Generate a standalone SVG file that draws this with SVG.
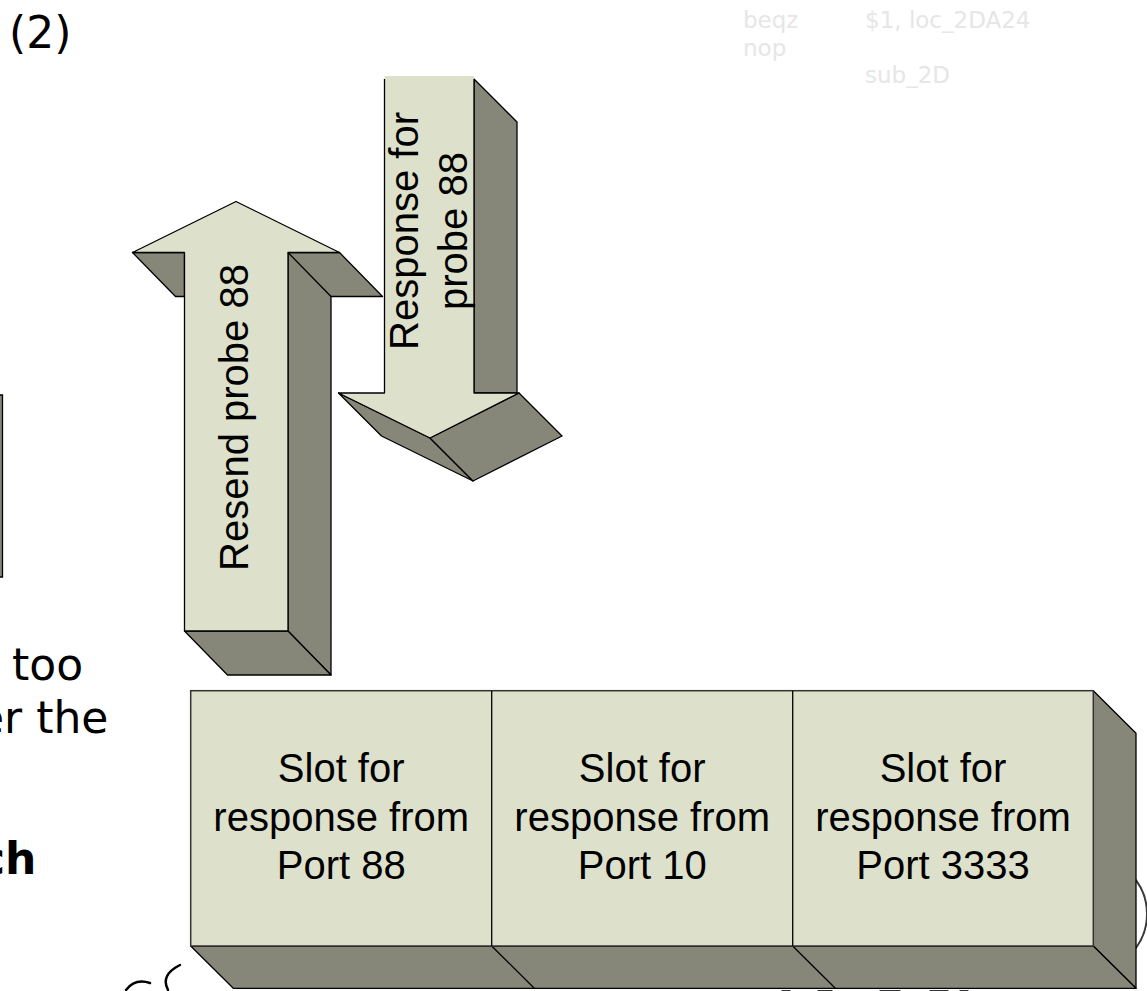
<svg xmlns="http://www.w3.org/2000/svg" width="1147" height="991" viewBox="0 0 1147 991">
<style>
.lt{fill:#dde0cb}
.dk{fill:#868778;stroke:#000;stroke-width:1.3;stroke-linejoin:round}
.ln{fill:none;stroke:#000;stroke-width:1.3;stroke-linejoin:round}
.lbl{font-family:"Liberation Sans",Arial,sans-serif;font-size:40px;fill:#000}
.slide{font-family:"DejaVu Sans",Verdana,sans-serif;fill:#000;font-size:44px}
.asm{font-family:"DejaVu Sans",Verdana,sans-serif;font-size:23px;fill:#e6e6e6}
</style>
<rect width="1147" height="991" fill="#fff"/>

<g id="background-text">
  <text class="slide" x="9" y="48" font-size="47">(2)</text>
  <text class="slide" x="12" y="680">too</text>
  <text class="slide" x="-23" y="733">er the</text>
  <text class="slide" x="-21" y="874" font-weight="bold">ch</text>
  <text class="asm" x="743" y="28">beqz</text>
  <text class="asm" x="865" y="28">$1,  loc_2DA24</text>
  <text class="asm" x="743" y="56">nop</text>
  <text class="asm" x="865" y="83">sub_2D</text>
</g>

<g id="left-box-edge">
  <path d="M-5,395 L2.5,395 L2.5,577 L-5,577 Z" fill="#868778" stroke="#000" stroke-width="1.3"/>
</g>

<g id="circle-fragment">
  <circle cx="1090" cy="914" r="57" fill="none" stroke="#3a3a3a" stroke-width="2"/>
</g>

<g id="scribbles" fill="none" stroke="#000" stroke-linecap="round">
  <path d="M126,990 Q135,978 150,983" stroke-width="2.5"/>
  <path d="M180,965 Q160,975 168,990" stroke-width="2.5"/>
  <path d="M782,990.5 L790,990.5 M818,990.5 L832,990.5 M880,990.5 L900,990.5 M930,990.5 L948,990.5 M960,990.5 L968,990.5" stroke-width="1.2" stroke="#333"/>
</g>

<g id="resend-arrow">
  <path class="dk" d="M288,252.5 L339.5,252.5 L382.5,296.5 L331,296.5 L331,675 L288,631 Z"/>
  <path class="dk" d="M184.5,631 L288,631 L331,675 L227.5,675 Z"/>
  <path class="dk" d="M132.5,252.5 L175.5,296.5 L184.5,296.5 L184.5,252.5 Z"/>
  <path class="lt" d="M184.5,631 L184.5,252.5 L132.5,252.5 L236,201.5 L339.5,252.5 L288,252.5 L288,631 Z"/>
  <path class="ln" d="M184.5,631 L184.5,252.5 L132.5,252.5 L236,201.5 L339.5,252.5 L288,252.5 L288,631 Z"/>
  <path class="ln" d="M288,252.5 L331,296.5"/>
  <text class="lbl" text-anchor="middle" transform="translate(248.3,417.5) rotate(-90)">Resend probe 88</text>
</g>

<g id="response-arrow">
  <path class="dk" d="M474,79 L517,122 L517,393 L474,393 Z"/>
  <path class="dk" d="M338.5,393 L430,438 L473,481 L381.5,436 Z"/>
  <path class="dk" d="M430,438 L519,393 L562,436 L473,481 Z"/>
  <path class="lt" d="M384.5,76 L384.5,393 L338.5,393 L430,438 L519,393 L474,393 L474,76 Z"/>
  <path class="ln" d="M384.5,79 L384.5,393 L338.5,393 L430,438 L519,393 L474,393 L474,79"/>
  <text class="lbl" text-anchor="middle" transform="translate(417.7,231) rotate(-90)"><tspan x="0" dy="0">Response for</tspan><tspan x="0" dy="49">probe 88</tspan></text>
</g>

<g id="slot-buffer">
  <path class="dk" d="M1093.3,690.7 L1136,733.3 L1136,988.3 L1093.3,946 Z"/>
  <path class="dk" d="M190.7,946 L1093.3,946 L1136,988.3 L233.3,988.3 Z"/>
  <path class="ln" d="M491.7,946 L534.3,988.3 M792.7,946 L835.3,988.3"/>
  <rect class="lt" x="190.7" y="690.7" width="902.6" height="255.3"/>
  <rect x="190.7" y="690.7" width="902.6" height="255.3" fill="none" stroke="#333" stroke-width="1.5"/>
  <path class="ln" d="M491.7,690.7 L491.7,946 M792.7,690.7 L792.7,946"/>
</g>

<g id="slot-88">
  <text class="lbl" text-anchor="middle" x="341.2" y="781.5">Slot for</text>
  <text class="lbl" text-anchor="middle" x="341.2" y="830.5">response from</text>
  <text class="lbl" text-anchor="middle" x="341.2" y="879">Port 88</text>
</g>
<g id="slot-10">
  <text class="lbl" text-anchor="middle" x="642.2" y="781.5">Slot for</text>
  <text class="lbl" text-anchor="middle" x="642.2" y="830.5">response from</text>
  <text class="lbl" text-anchor="middle" x="642.2" y="879">Port 10</text>
</g>
<g id="slot-3333">
  <text class="lbl" text-anchor="middle" x="943" y="781.5">Slot for</text>
  <text class="lbl" text-anchor="middle" x="943" y="830.5">response from</text>
  <text class="lbl" text-anchor="middle" x="943" y="879">Port 3333</text>
</g>
</svg>
